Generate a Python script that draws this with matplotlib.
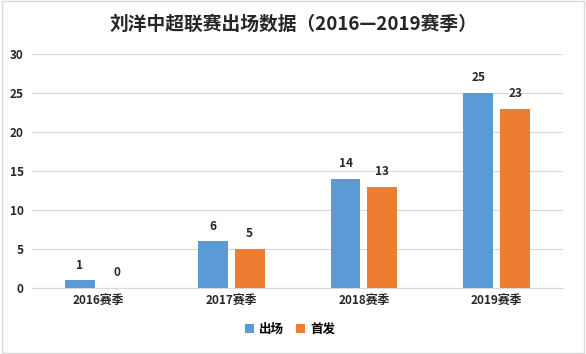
import matplotlib.pyplot as plt
import numpy as np
from matplotlib.patches import Rectangle

plt.rcParams['font.family'] = ['Noto Sans CJK SC', 'DejaVu Sans']

# data
seasons = ['2016赛季', '2017赛季', '2018赛季', '2019赛季']
appearances = [1, 6, 14, 25]
starts = [0, 5, 13, 23]
series_names = ['出场', '首发']

blue = '#5B9BD5'
orange = '#ED7D31'

fig = plt.figure(figsize=(5.86, 3.54), dpi=100)
ax = fig.add_axes([0.0546, 0.1864, 0.9064, 0.6611])

x = np.arange(len(seasons))
w = 0.225
off = 0.139
b1 = ax.bar(x - off, appearances, w, color=blue, label=series_names[0], zorder=3)
b2 = ax.bar(x + off, starts, w, color=orange, label=series_names[1], zorder=3)

for bars, vals in ((b1, appearances), (b2, starts)):
    for rect, v in zip(bars, vals):
        ax.text(rect.get_x() + rect.get_width() / 2, v + 1.1, str(v),
                ha='center', va='bottom', fontsize=8.5, fontweight='bold', color='#262626')

ax.set_xlim(-0.5, 3.5)
ax.set_ylim(0, 30)
ax.set_yticks(range(0, 31, 5))
ax.set_xticks(x)
ax.set_xticklabels(seasons, fontsize=8.5, fontweight='bold', color='#262626')
for lbl in ax.get_yticklabels():
    lbl.set_fontsize(8.5)
    lbl.set_fontweight('bold')
    lbl.set_color('#262626')
ax.tick_params(length=0, pad=6)
ax.tick_params(axis='x', pad=4)
ax.grid(axis='y', color='#D9D9D9', linewidth=0.8, zorder=0)
for s in ['top', 'right', 'left']:
    ax.spines[s].set_visible(False)
ax.spines['bottom'].set_color('#D9D9D9')

fig.text(0.5, 0.93, '刘洋中超联赛出场数据（2016—2019赛季）', ha='center', va='center',
         fontsize=13.5, fontweight='bold', color='#262626')

fig.legend(handles=[b1, b2], labels=series_names, loc='center', bbox_to_anchor=(0.495, 0.07),
           ncol=2, frameon=False, handlelength=0.7, handleheight=0.7, handletextpad=0.4,
           columnspacing=1.0, prop={'size': 9, 'weight': 'bold'})

fig.patches.append(Rectangle((0.003, 0.003), 0.994, 0.994, transform=fig.transFigure,
                             fill=False, edgecolor='#D9D9D9', linewidth=1))

fig.savefig('out.png', dpi=100)
